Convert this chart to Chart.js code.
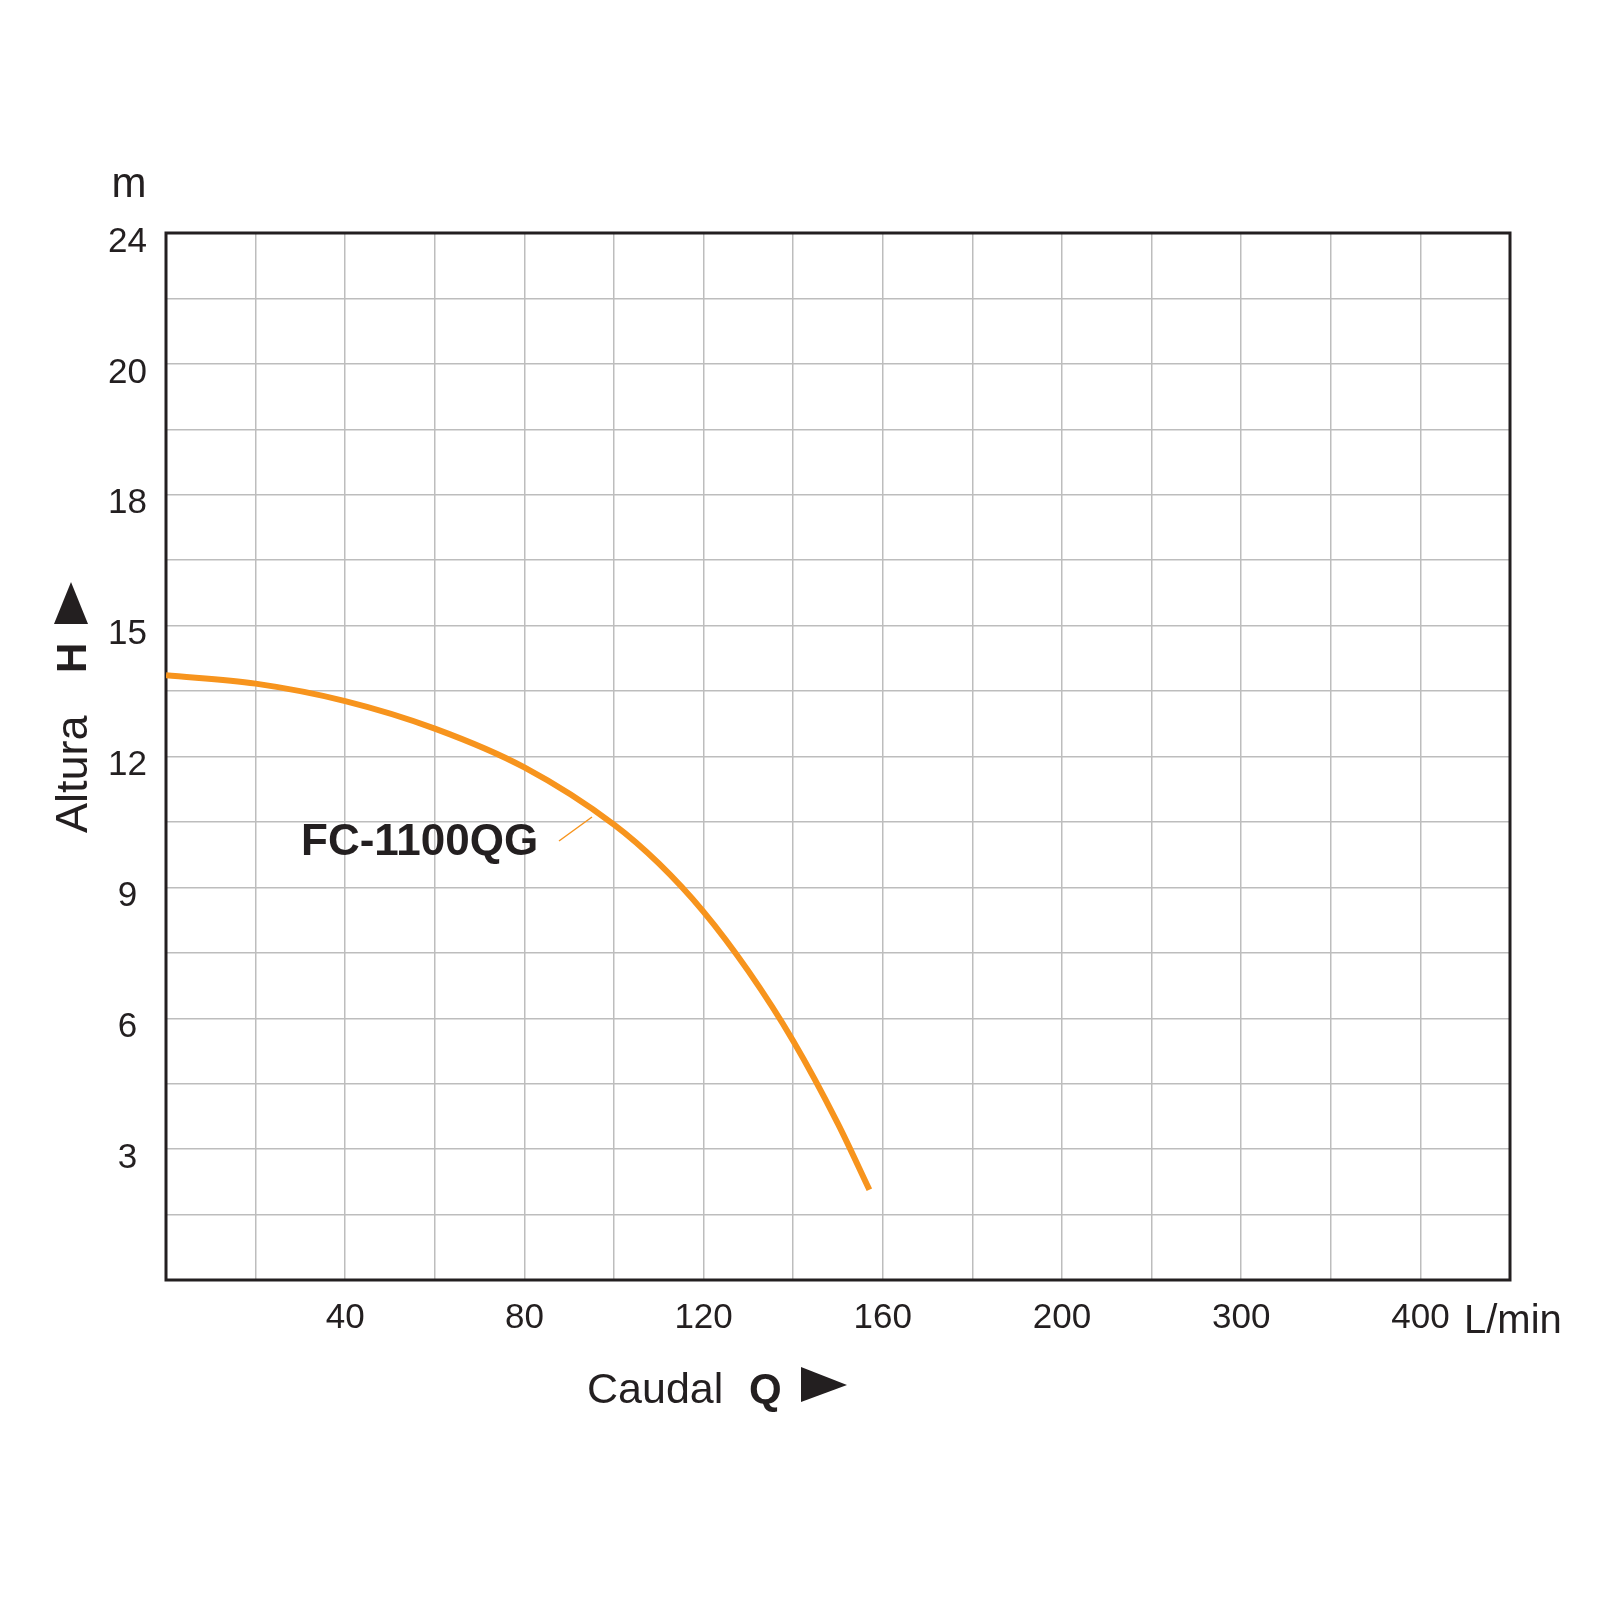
<!DOCTYPE html>
<html>
<head>
<meta charset="utf-8">
<script src="https://cdn.jsdelivr.net/npm/chart.js@4.4.1/dist/chart.umd.min.js"></script>
<style>
  html, body { margin: 0; padding: 0; background: #ffffff; }
  #wrap { width: 1600px; height: 1600px; position: relative; }
</style>
</head>
<body>
<div id="wrap"><canvas id="c"></canvas></div>
<script>
// ---- data ----
const flowLpm = [0, 20, 40, 60, 80, 100, 110, 120, 130, 140, 150, 157];
const headM   = [13.86, 13.67, 13.27, 12.64, 11.75, 10.44, 9.55, 8.44, 7.08, 5.48, 3.58, 2.07];
const seriesName = 'FC-1100QG';

const xTickValues = [40, 80, 120, 160, 200, 240, 280];
const xTickLabels = ['40', '80', '120', '160', '200', '300', '400'];
const yTickValues = [3, 6, 9, 12, 15, 18, 21, 24];
const yTickLabels = ['3', '6', '9', '12', '15', '18', '20', '24'];

const xUnit = 'L/min';
const yUnit = 'm';
const xTitle = 'Caudal';
const xSymbol = 'Q';
const yTitle = 'Altura';
const ySymbol = 'H';

// ---- styling ----
const INK = '#231f20';
const ORANGE = '#f7941d';
const GRID = '#bdbdbd';
const FONT = '"Liberation Sans", Arial, Helvetica, sans-serif';

function labelFor(values, labels, v) {
  for (let i = 0; i < values.length; i++) {
    if (Math.abs(values[i] - v) < 1e-6) return labels[i];
  }
  return '';
}

const decorations = {
  id: 'decorations',
  beforeDatasetsDraw(chart) {
    const ctx = chart.ctx, a = chart.chartArea;
    ctx.save();
    ctx.strokeStyle = INK;
    ctx.lineWidth = 3;
    ctx.strokeRect(a.left, a.top, a.right - a.left, a.bottom - a.top);
    ctx.restore();
  },
  afterDraw(chart) {
    const ctx = chart.ctx, a = chart.chartArea;
    ctx.save();
    ctx.fillStyle = INK;
    ctx.textBaseline = 'alphabetic';

    // unit "m" above y axis
    ctx.font = '42px ' + FONT;
    ctx.textAlign = 'center';
    ctx.fillText(yUnit, a.left - 37, a.top - 36);

    // unit "L/min" after last x label
    ctx.font = '40px ' + FONT;
    ctx.textAlign = 'left';
    ctx.fillText(xUnit, a.right - 46, a.bottom + 53);

    // x title: Caudal  Q  ▶
    ctx.font = '43px ' + FONT;
    ctx.textAlign = 'left';
    ctx.fillText(xTitle, 587, a.bottom + 123);
    ctx.font = 'bold 42px ' + FONT;
    ctx.fillText(xSymbol, 749, a.bottom + 123);
    ctx.beginPath();
    ctx.moveTo(801, a.bottom + 87);
    ctx.lineTo(801, a.bottom + 122);
    ctx.lineTo(847, a.bottom + 105);
    ctx.closePath();
    ctx.fill();

    // y title: Altura  H  ▲ (rotated)
    ctx.save();
    ctx.translate(87, 833);
    ctx.rotate(-Math.PI / 2);
    ctx.font = '45px ' + FONT;
    ctx.textAlign = 'left';
    ctx.fillText(yTitle, 0, 0);
    ctx.restore();

    ctx.save();
    ctx.translate(86, 673);
    ctx.rotate(-Math.PI / 2);
    ctx.font = 'bold 42px ' + FONT;
    ctx.textAlign = 'left';
    ctx.fillText(ySymbol, 0, 0);
    ctx.restore();

    ctx.beginPath();
    ctx.moveTo(54, 624);
    ctx.lineTo(88, 624);
    ctx.lineTo(71, 582);
    ctx.closePath();
    ctx.fill();

    // series label with leader line
    ctx.font = 'bold 44px ' + FONT;
    ctx.textAlign = 'left';
    ctx.fillText(seriesName, 301, 855);
    ctx.strokeStyle = ORANGE;
    ctx.lineWidth = 1.5;
    ctx.beginPath();
    ctx.moveTo(559, 841);
    ctx.lineTo(592, 817);
    ctx.stroke();

    ctx.restore();
  }
};

new Chart(document.getElementById('c'), {
  type: 'line',
  data: {
    labels: flowLpm,
    datasets: [{
      label: seriesName,
      data: flowLpm.map((q, i) => ({ x: q, y: headM[i] })),
      borderColor: ORANGE,
      borderWidth: 6,
      borderCapStyle: 'butt',
      pointRadius: 0,
      fill: false,
      cubicInterpolationMode: 'monotone'
    }]
  },
  options: {
    responsive: true,
    maintainAspectRatio: false,
    animation: false,
    devicePixelRatio: 1,
    layout: { padding: { left: 0, top: 233, right: 90, bottom: 0 } },
    plugins: {
      legend: { display: false },
      tooltip: { enabled: false },
      title: { display: false }
    },
    scales: {
      x: {
        type: 'linear',
        min: 0,
        max: 300,
        afterFit(scale) { scale.height = 320; },
        grid: { color: GRID, lineWidth: 1.5, drawTicks: false },
        border: { display: false },
        ticks: {
          stepSize: 20,
          autoSkip: false,
          maxRotation: 0,
          padding: 17,
          color: INK,
          font: { family: FONT, size: 35 },
          callback: (v) => labelFor(xTickValues, xTickLabels, v)
        }
      },
      y: {
        type: 'linear',
        min: 0,
        max: 24,
        afterFit(scale) { scale.width = 166; },
        grid: { color: GRID, lineWidth: 1.5, drawTicks: false },
        border: { display: false },
        ticks: {
          stepSize: 1.5,
          autoSkip: false,
          padding: 19,
          crossAlign: 'center',
          labelOffset: 9,
          color: INK,
          font: { family: FONT, size: 35 },
          callback: (v) => labelFor(yTickValues, yTickLabels, v)
        }
      }
    }
  },
  plugins: [decorations]
});
</script>
</body>
</html>
